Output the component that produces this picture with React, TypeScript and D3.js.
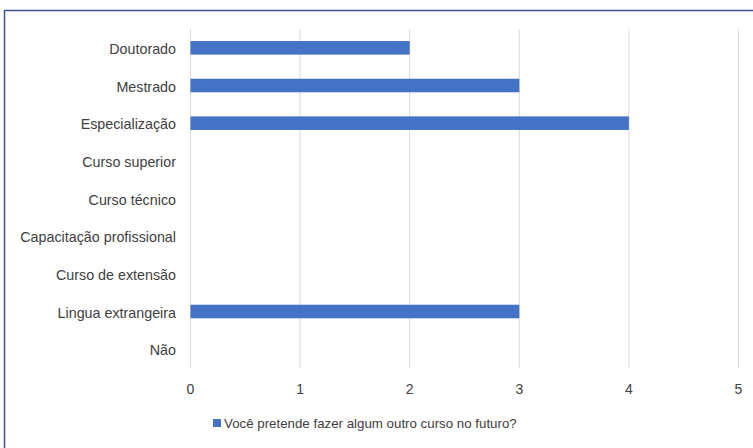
import React from "react";
import * as d3 from "d3";

const categories = [
  "Doutorado",
  "Mestrado",
  "Especialização",
  "Curso superior",
  "Curso técnico",
  "Capacitação profissional",
  "Curso de extensão",
  "Lingua extrangeira",
  "Não",
];
const values = [2, 3, 4, 0, 0, 0, 0, 3, 0];
const xTicks = [0, 1, 2, 3, 4, 5];
const seriesName = "Você pretende fazer algum outro curso no futuro?";

const W = 753;
const H = 448;
const FONT = "'Liberation Sans', Arial, sans-serif";
const TEXT = "#404040";

export default function App() {
  const x = d3.scaleLinear().domain([0, 5]).range([190.5, 738.5]);
  const y = d3.scaleBand().domain(categories).range([29, 368]).paddingInner(0.64).paddingOuter(0.32);
  const band = d3.scaleBand().domain(categories).range([29, 368]);

  return (
    <svg
      width={W}
      height={H}
      style={{ position: "absolute", left: 0, top: 0, background: "#fff" }}
    >
      {/* outer chart frame */}
      <rect x={4.5} y={10.5} width={W + 10} height={H + 10} fill="none" stroke="#3f4f8f" strokeWidth={1.5} />

      {/* vertical gridlines */}
      {xTicks.map((t) => (
        <line key={t} x1={x(t)} x2={x(t)} y1={29} y2={368} stroke="#d9d9d9" strokeWidth={1} />
      ))}

      {/* bars */}
      {categories.map((c, i) =>
        values[i] > 0 ? (
          <rect
            key={c}
            x={x(0)}
            y={y(c)}
            width={x(values[i]) - x(0)}
            height={y.bandwidth()}
            fill="#4472c4"
          />
        ) : null
      )}

      {/* category labels */}
      {categories.map((c) => (
        <text
          key={c}
          x={176}
          y={(band(c) as number) + band.bandwidth() / 2 + 1}
          dy="0.35em"
          textAnchor="end"
          fontFamily={FONT}
          fontSize={14.3}
          fill={TEXT}
        >
          {c}
        </text>
      ))}

      {/* value axis labels */}
      {xTicks.map((t) => (
        <text
          key={t}
          x={x(t)}
          y={389}
          dy="0.35em"
          textAnchor="middle"
          fontFamily={FONT}
          fontSize={14}
          fill={TEXT}
        >
          {t}
        </text>
      ))}

      {/* legend */}
      <rect x={213} y={419} width={8} height={8} fill="#4472c4" />
      <text x={224} y={423.5} dy="0.35em" fontFamily={FONT} fontSize={13.3} fill={TEXT}>
        {seriesName}
      </text>
    </svg>
  );
}
